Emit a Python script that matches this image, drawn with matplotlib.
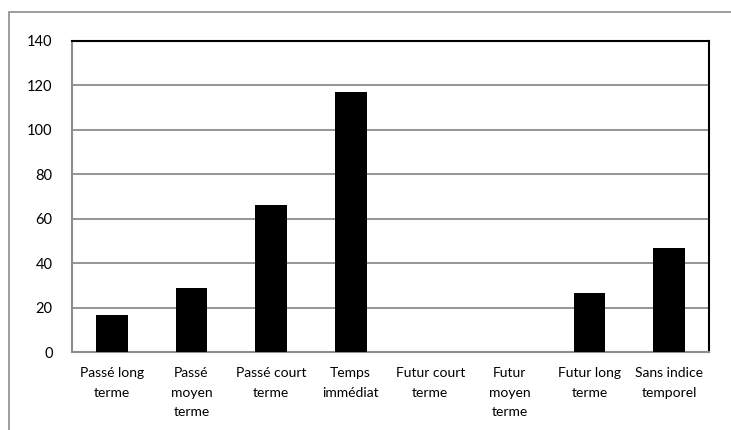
import matplotlib
matplotlib.use("Agg")
import matplotlib.pyplot as plt
from matplotlib.patches import Rectangle

categories = ["Passé long\nterme", "Passé\nmoyen\nterme", "Passé court\nterme", "Temps\nimmédiat",
              "Futur court\nterme", "Futur\nmoyen\nterme", "Futur long\nterme", "Sans indice\ntemporel"]
values = [16.5, 29, 66, 117, 0, 0, 26.5, 47]
yticks = [0, 20, 40, 60, 80, 100, 120, 140]

plt.rcParams['font.family'] = ['Lato', 'DejaVu Sans']

fig = plt.figure(figsize=(7.31, 4.30), dpi=100)
W, H = 731, 430
ax = fig.add_axes([72 / W, 1 - 352 / H, (709 - 72) / W, (352 - 41) / H])

# outer chart border
fig.patches.append(Rectangle((9 / W, -0.1), 1.2, 1 - 12 / H + 0.1, transform=fig.transFigure,
                             fill=False, edgecolor='#8c8c8c', linewidth=1.2, zorder=0))

x = list(range(len(categories)))
ax.bar(x, values, width=0.4, color='black', zorder=3)
ax.set_xlim(-0.5, len(categories) - 0.5)
ax.set_ylim(0, 140)
ax.set_yticks(yticks)
ax.set_yticklabels([str(v) for v in yticks], fontsize=10.5)
ax.set_xticks(x)
ax.set_xticklabels(categories, fontsize=10, linespacing=1.75)
ax.tick_params(axis='x', length=0, pad=11)
ax.tick_params(axis='y', length=0, pad=14)
ax.yaxis.grid(True, color='#8c8c8c', linewidth=1.3, zorder=0)
ax.set_axisbelow(True)
ax.spines['top'].set_color('black')
ax.spines['right'].set_color('black')
ax.spines['left'].set_color('#8c8c8c')
ax.spines['bottom'].set_color('#8c8c8c')
for s in ax.spines.values():
    s.set_linewidth(1.5)

fig.savefig("out.png", dpi=100)
